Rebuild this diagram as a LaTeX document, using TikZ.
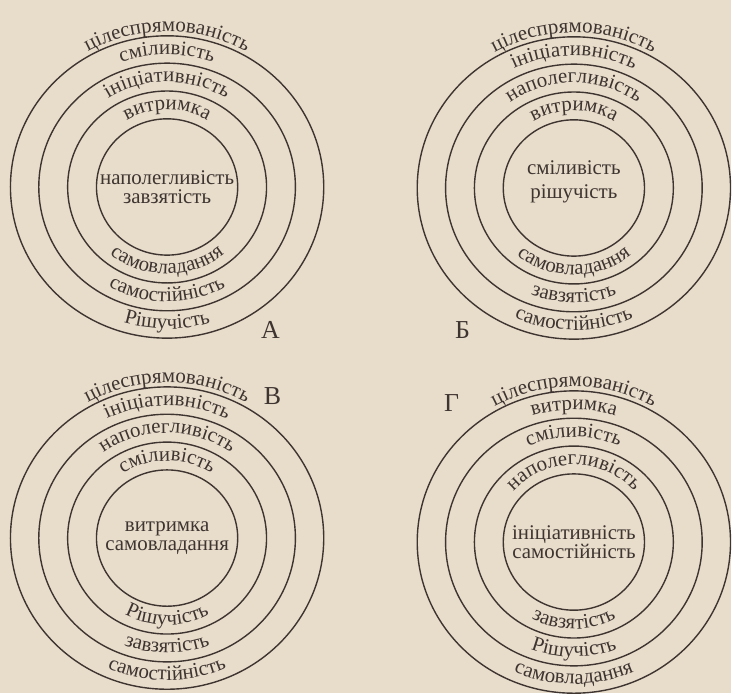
\documentclass[tikz,border=0pt]{standalone}
\usepackage{fontspec}
\setmainfont{Liberation Serif}
\usetikzlibrary{decorations.text}
\definecolor{PaperClr}{RGB}{232,221,203}
\definecolor{InkClr}{RGB}{62,52,48}

\tikzset{
  ring/.style={draw=InkClr, line width=.7pt},
  ringtext/.style={decorate, decoration={text along path, text/.expanded={#1},
    text align=center, text color=InkClr}},
  midtext/.style={align=center, text=InkClr, inner sep=0pt,
    font=\fontsize{10.5}{9.4}\selectfont},
  tag/.style={text=InkClr, inner sep=0pt, font=\fontsize{13}{15}\selectfont}
}

\begin{document}
\begin{tikzpicture}[x=.5pt, y=.5pt]
\fontsize{10.5}{9.4}\selectfont
\fill[PaperClr] (0,0) rectangle (735,697);

\coordinate (A) at (168,509);
\coordinate (B) at (577,508);
\coordinate (V) at (168,156);
\coordinate (G) at (577,152);

\foreach \c in {A,B,V,G}
  \foreach \r in {71,100,129,157.5}
    \draw[ring] (\c) ellipse [x radius=\r, y radius=.965*\r];

\foreach \c/\r/\t in {A/162/цілеспрямованість, A/138/сміливість, A/109.5/ініціативність, A/80.5/витримка,
    B/162/цілеспрямованість, B/138/ініціативність, B/109.5/наполегливість, B/80.5/витримка,
    V/162/цілеспрямованість, V/138/ініціативність, V/109.5/наполегливість, V/80.5/сміливість,
    G/162/цілеспрямованість, G/138/витримка, G/109.5/сміливість, G/80.5/наполегливість}
  \path[ringtext=\t] (\c) ++(180:\r) arc [start angle=180, end angle=0, x radius=\r, y radius=.965*\r];

\foreach \c/\r/\t in {A/90.5/самовладання, A/119.5/самостійність, A/148/Рішучість,
    B/90.5/самовладання, B/119.5/завзятість, B/148/самостійність,
    V/90.5/Рішучість, V/119.5/завзятість, V/148/самостійність,
    G/90.5/завзятість, G/119.5/Рішучість, G/148/самовладання}
  \path[ringtext=\t] (\c) ++(180:\r) arc [start angle=180, end angle=360, x radius=\r, y radius=.965*\r];

\node[midtext] (midA) at (A) {наполегливість\\завзятість};
\node[midtext] (midB) at ([yshift=3]B) {сміливість\\[3pt]рішучість};
\node[midtext] (midV) at (V) {витримка\\самовладання};
\node[midtext] (midG) at (G) {ініціативність\\самостійність};

\node[tag] (tagA) at (272,365) {А};
\node[tag] (tagB) at (465,365) {Б};
\node[tag] (tagV) at (274,299) {В};
\node[tag] (tagG) at (454,292) {Г};

\end{tikzpicture}
\end{document}
